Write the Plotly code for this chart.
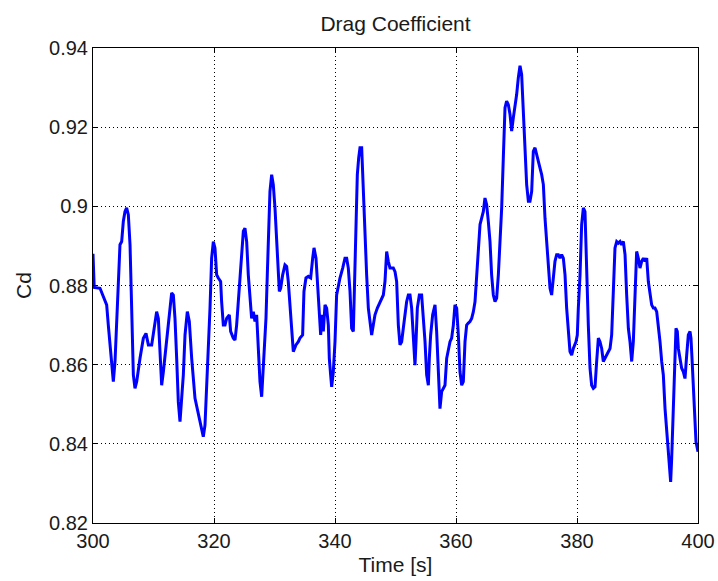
import plotly.graph_objects as go

time_s = [
    300.0, 300.2, 301.16, 301.71, 302.26, 302.53, 302.81, 303.08, 303.36, 303.64,
    303.91, 304.19, 304.46, 304.74, 305.01, 305.29, 305.56, 305.84, 306.12, 306.39,
    306.67, 306.94, 307.22, 307.77, 308.32, 308.76, 309.15, 309.70, 310.25, 310.52,
    310.80, 311.07, 311.35, 311.63, 312.18, 312.73, 313.00, 313.28, 313.55, 313.83,
    314.10, 314.38, 314.66, 314.93, 315.21, 315.59, 315.92, 316.31, 316.86, 317.41,
    317.96, 318.23, 318.51, 318.78, 319.06, 319.34, 319.61, 319.89, 320.16, 320.44,
    320.71, 321.10, 321.26, 321.54, 321.82, 322.09, 322.53, 322.75, 323.19, 323.47,
    323.74, 324.02, 324.29, 324.57, 324.85, 325.12, 325.40, 325.67, 325.95, 326.22,
    326.50, 326.77, 327.05, 327.32, 327.60, 327.88, 328.04, 328.26, 328.59, 328.81,
    328.98, 329.25, 329.53, 329.80, 330.08, 330.35, 330.63, 330.80, 331.02, 331.35,
    331.73, 332.01, 332.28, 332.56, 332.83, 333.11, 333.55, 333.94, 334.21, 334.65,
    334.87, 335.20, 335.59, 335.98, 336.31, 336.53, 336.86, 337.08, 337.41, 337.63,
    337.85, 338.07, 338.35, 338.62, 338.90, 339.06, 339.28, 339.45, 339.72, 340.00,
    340.27, 340.55, 340.82, 341.27, 341.65, 341.93, 342.20, 342.48, 342.75, 343.03,
    343.30, 343.47, 343.69, 343.91, 344.13, 344.41, 344.57, 344.79, 345.01, 345.23,
    345.51, 345.78, 346.06, 346.33, 346.61, 347.00, 347.44, 347.99, 348.26, 348.54,
    348.81, 349.09, 349.64, 349.92, 350.19, 350.47, 350.74, 351.02, 351.29, 351.57,
    351.84, 352.12, 352.40, 352.67, 352.95, 353.22, 353.39, 353.61, 353.94, 354.32,
    354.60, 354.88, 355.15, 355.43, 355.59, 355.81, 356.14, 356.53, 356.80, 357.08,
    357.35, 357.63, 357.90, 358.18, 358.46, 358.73, 359.01, 359.28, 359.56, 359.83,
    360.11, 360.39, 360.66, 360.94, 361.21, 361.49, 361.76, 362.04, 362.31, 362.59,
    362.87, 363.14, 363.42, 363.69, 363.97, 364.24, 364.52, 364.79, 365.07, 365.34,
    365.62, 365.89, 366.17, 366.45, 366.72, 367.00, 367.27, 367.55, 367.82, 368.10,
    368.37, 368.65, 368.93, 369.20, 369.48, 369.75, 370.03, 370.30, 370.58, 370.85,
    371.13, 371.41, 371.68, 371.96, 372.23, 372.51, 372.78, 373.06, 373.33, 373.61,
    373.88, 374.16, 374.44, 374.71, 374.99, 375.26, 375.54, 375.81, 376.09, 376.36,
    376.64, 376.91, 377.19, 377.46, 377.74, 378.02, 378.29, 378.57, 378.84, 379.12,
    379.39, 379.83, 380.05, 380.22, 380.50, 380.77, 381.05, 381.32, 381.60, 381.87,
    382.15, 382.42, 382.70, 382.98, 383.25, 383.53, 383.80, 384.08, 384.35, 384.63,
    384.90, 385.18, 385.46, 385.73, 386.01, 386.28, 386.56, 386.83, 387.11, 387.38,
    387.66, 387.94, 388.21, 388.49, 388.76, 389.04, 389.31, 389.59, 389.86, 390.14,
    390.41, 390.69, 390.97, 391.24, 391.52, 391.79, 392.07, 392.34, 392.62, 392.89,
    393.17, 393.44, 393.72, 394.00, 394.27, 394.55, 394.82, 395.10, 395.37, 395.48,
    395.65, 395.92, 396.20, 396.36, 396.58, 396.75, 397.02, 397.30, 397.58, 397.85,
    398.13, 398.40, 398.68, 398.84, 399.01, 399.23, 399.50, 399.67, 400.00,
]

drag_cd = [
    0.8880, 0.8795, 0.8793, 0.8772, 0.8751, 0.8700, 0.8658, 0.8608, 0.8557, 0.8608,
    0.8700, 0.8827, 0.8903, 0.8911, 0.8962, 0.8987, 0.8996, 0.8979, 0.8903, 0.8743,
    0.8574, 0.8540, 0.8557, 0.8616, 0.8667, 0.8679, 0.8650, 0.8650, 0.8700, 0.8734,
    0.8717, 0.8616, 0.8548, 0.8582, 0.8658, 0.8751, 0.8781, 0.8776, 0.8717, 0.8616,
    0.8506, 0.8456, 0.8506, 0.8574, 0.8675, 0.8734, 0.8709, 0.8616, 0.8515, 0.8473,
    0.8430, 0.8418, 0.8447, 0.8532, 0.8616, 0.8743, 0.8869, 0.8911, 0.8895, 0.8827,
    0.8819, 0.8810, 0.8759, 0.8700, 0.8700, 0.8717, 0.8726, 0.8684, 0.8667, 0.8662,
    0.8700, 0.8759, 0.8827, 0.8895, 0.8937, 0.8945, 0.8911, 0.8827, 0.8759, 0.8717,
    0.8734, 0.8709, 0.8726, 0.8658, 0.8557, 0.8519, 0.8565, 0.8616, 0.8717, 0.8827,
    0.8911, 0.9038, 0.9080, 0.9055, 0.8996, 0.8911, 0.8827, 0.8785, 0.8793, 0.8827,
    0.8852, 0.8848, 0.8810, 0.8743, 0.8675, 0.8633, 0.8650, 0.8658, 0.8667, 0.8675,
    0.8785, 0.8819, 0.8823, 0.8819, 0.8869, 0.8895, 0.8869, 0.8810, 0.8743, 0.8675,
    0.8726, 0.8684, 0.8751, 0.8743, 0.8700, 0.8616, 0.8574, 0.8544, 0.8582, 0.8658,
    0.8776, 0.8802, 0.8819, 0.8844, 0.8869, 0.8869, 0.8844, 0.8785, 0.8692, 0.8684,
    0.8869, 0.8996, 0.9080, 0.9122, 0.9148, 0.9148, 0.9080, 0.8979, 0.8911, 0.8827,
    0.8743, 0.8700, 0.8675, 0.8700, 0.8726, 0.8743, 0.8759, 0.8776, 0.8810, 0.8886,
    0.8861, 0.8844, 0.8844, 0.8835, 0.8810, 0.8700, 0.8650, 0.8658, 0.8692, 0.8726,
    0.8759, 0.8776, 0.8776, 0.8743, 0.8658, 0.8599, 0.8658, 0.8743, 0.8776, 0.8776,
    0.8717, 0.8658, 0.8574, 0.8548, 0.8616, 0.8675, 0.8726, 0.8751, 0.8684, 0.8574,
    0.8489, 0.8532, 0.8540, 0.8548, 0.8616, 0.8641, 0.8658, 0.8667, 0.8700, 0.8751,
    0.8743, 0.8675, 0.8582, 0.8548, 0.8557, 0.8658, 0.8700, 0.8705, 0.8709, 0.8717,
    0.8734, 0.8759, 0.8827, 0.8895, 0.8954, 0.8970, 0.8987, 0.9021, 0.9004, 0.8962,
    0.8911, 0.8827, 0.8776, 0.8759, 0.8768, 0.8827, 0.8911, 0.8996, 0.9122, 0.9249,
    0.9266, 0.9257, 0.9232, 0.9190, 0.9224, 0.9249, 0.9283, 0.9325, 0.9355, 0.9333,
    0.9249, 0.9139, 0.9055, 0.9013, 0.9013, 0.9038, 0.9139, 0.9148, 0.9131, 0.9106,
    0.9097, 0.9080, 0.9055, 0.8970, 0.8911, 0.8835, 0.8793, 0.8776, 0.8827, 0.8861,
    0.8878, 0.8878, 0.8869, 0.8878, 0.8869, 0.8827, 0.8743, 0.8675, 0.8633, 0.8624,
    0.8641, 0.8658, 0.8675, 0.8743, 0.8827, 0.8954, 0.8996, 0.8987, 0.8827, 0.8700,
    0.8591, 0.8548, 0.8540, 0.8544, 0.8608, 0.8667, 0.8658, 0.8641, 0.8608, 0.8616,
    0.8624, 0.8633, 0.8641, 0.8675, 0.8802, 0.8895, 0.8911, 0.8907, 0.8911, 0.8903,
    0.8911, 0.8878, 0.8776, 0.8692, 0.8658, 0.8608, 0.8658, 0.8785, 0.8886, 0.8869,
    0.8844, 0.8861, 0.8869, 0.8861, 0.8869, 0.8810, 0.8776, 0.8751, 0.8743, 0.8743,
    0.8734, 0.8700, 0.8658, 0.8608, 0.8574, 0.8489, 0.8439, 0.8371, 0.8321, 0.8304,
    0.8363, 0.8489, 0.8675, 0.8692, 0.8684, 0.8641, 0.8616, 0.8591, 0.8582, 0.8565,
    0.8624, 0.8675, 0.8684, 0.8667, 0.8616, 0.8532, 0.8447, 0.8405, 0.8380,
]

x_ticks = [300, 320, 340, 360, 380, 400]
y_ticks = [0.82, 0.84, 0.86, 0.88, 0.90, 0.92, 0.94]
y_tick_text = ["0.82", "0.84", "0.86", "0.88", "0.9", "0.92", "0.94"]

font_family = "Liberation Sans, Arial, sans-serif"
text_color = "#1a1a1a"

fig = go.Figure()
fig.add_trace(go.Scatter(
    x=time_s, y=drag_cd, mode="lines",
    line=dict(color="#0000ff", width=3),
    showlegend=False,
))

axis_common = dict(
    showline=True, linecolor="#000000", linewidth=1, mirror="ticks",
    ticks="inside", ticklen=5, tickcolor="#000000",
    showgrid=True, gridcolor="#000000", gridwidth=1, griddash="1px,3px",
    zeroline=False, automargin=False,
    tickfont=dict(family=font_family, size=20, color=text_color),
)

fig.update_layout(
    width=718, height=581,
    margin=dict(l=93, r=20, t=48, b=58),
    paper_bgcolor="#ffffff", plot_bgcolor="#ffffff",
    font=dict(family=font_family, color=text_color),
    title=dict(text="Drag Coefficient", x=0.5, xanchor="center", xref="paper",
               y=1 - 24 / 581, yanchor="middle",
               font=dict(family=font_family, size=21, color=text_color)),
    xaxis=dict(axis_common, range=[300, 400], tickvals=x_ticks,
               title=dict(text="Time [s]", standoff=6,
                          font=dict(family=font_family, size=21, color=text_color))),
    yaxis=dict(axis_common, range=[0.82, 0.94], tickvals=y_ticks, ticktext=y_tick_text,
               title=dict(text="Cd", standoff=11,
                          font=dict(family=font_family, size=21, color=text_color))),
)

fig.write_html("out.html")
